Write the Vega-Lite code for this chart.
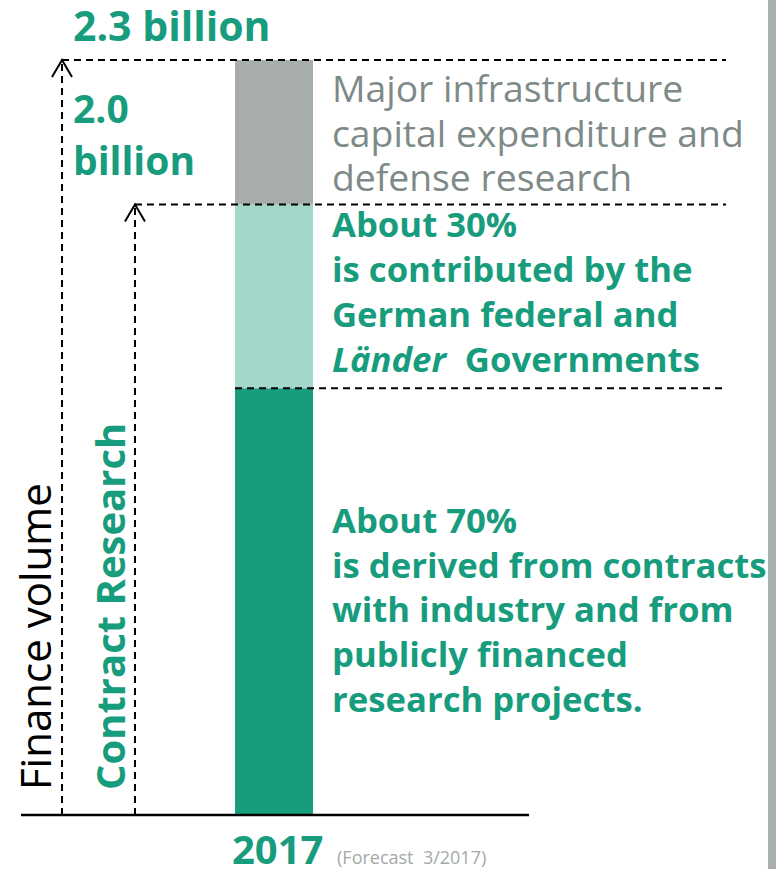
{
  "$schema": "https://vega.github.io/schema/vega-lite/v6.json",
  "width": 778,
  "height": 869,
  "autosize": {"type": "none"},
  "padding": 0,
  "background": "white",
  "config": {"view": {"stroke": null}},
  "datasets": {
    "segments": [
      {"segment": "About 70%: contracts with industry and publicly financed projects", "x": 30.21, "x2": 40.23, "y": 0, "y2": 1.30},
      {"segment": "About 30%: German federal and Länder Governments", "x": 30.21, "x2": 40.23, "y": 1.30, "y2": 1.86},
      {"segment": "Major infrastructure capital expenditure and defense research", "x": 30.21, "x2": 40.23, "y": 1.86, "y2": 2.30}
    ],
    "edge": [
      {"x": 98.71, "x2": 99.74, "y": -0.1645, "y2": 2.4828}
    ],
    "dashes": [
      {"x": 7.97, "x2": 93.32, "y": 2.30, "y2": 2.30},
      {"x": 17.35, "x2": 93.32, "y": 1.86, "y2": 1.86},
      {"x": 30.21, "x2": 93.32, "y": 1.30, "y2": 1.30},
      {"x": 7.97, "x2": 7.97, "y": 0, "y2": 2.30},
      {"x": 17.35, "x2": 17.35, "y": 0, "y2": 1.86}
    ],
    "baseline": [
      {"x": 2.70, "x2": 68.0, "y": 0, "y2": 0}
    ],
    "arrows": [
      {"x": 7.97, "y": 2.30},
      {"x": 17.35, "y": 1.86}
    ],
    "total": [
      {"x": 9.38, "y": 2.358, "text": "2.3 billion"}
    ],
    "contract": [
      {"x": 9.38, "y": 2.108, "text": "2.0"},
      {"x": 9.38, "y": 1.950, "text": "billion"}
    ],
    "grayText": [
      {"x": 42.67, "y": 2.172, "text": "Major infrastructure"},
      {"x": 42.67, "y": 2.035, "text": "capital expenditure and"},
      {"x": 42.67, "y": 1.901, "text": "defense research"}
    ],
    "greenText": [
      {"x": 42.67, "y": 1.761, "text": "About 30%"},
      {"x": 42.67, "y": 1.624, "text": "is contributed by the"},
      {"x": 42.67, "y": 1.487, "text": "German federal and"},
      {"x": 59.75, "y": 1.350, "text": "Governments"},
      {"x": 42.67, "y": 0.859, "text": "About 70%"},
      {"x": 42.67, "y": 0.722, "text": "is derived from contracts"},
      {"x": 42.67, "y": 0.588, "text": "with industry and from"},
      {"x": 42.67, "y": 0.451, "text": "publicly financed"},
      {"x": 42.67, "y": 0.314, "text": "research projects."}
    ],
    "italicText": [
      {"x": 42.67, "y": 1.350, "text": "Länder"}
    ],
    "year": [
      {"x": 29.82, "y": -0.149, "text": "2017"}
    ],
    "forecast": [
      {"x": 43.32, "y": -0.149, "text": "(Forecast\u00a0 3/2017)"}
    ],
    "finance": [
      {"x": 6.56, "y": 0.076, "text": "Finance volume"}
    ],
    "contractLabel": [
      {"x": 16.07, "y": 0.076, "text": "Contract Research"}
    ]
  },
  "encoding": {
    "x": {"field": "x", "type": "quantitative", "scale": {"domain": [0, 100], "nice": false, "zero": false}, "axis": null},
    "y": {"field": "y", "type": "quantitative", "scale": {"domain": [-0.1645, 2.4828], "nice": false, "zero": false}, "axis": null}
  },
  "layer": [
    {
      "data": {"name": "segments"},
      "mark": {"type": "rect"},
      "encoding": {
        "x2": {"field": "x2"},
        "y2": {"field": "y2"},
        "color": {
          "field": "segment",
          "type": "nominal",
          "scale": {
            "domain": [
              "About 70%: contracts with industry and publicly financed projects",
              "About 30%: German federal and Länder Governments",
              "Major infrastructure capital expenditure and defense research"
            ],
            "range": ["#179c7d", "#a3d7ca", "#a6adab"]
          },
          "legend": null
        }
      }
    },
    {
      "data": {"name": "edge"},
      "mark": {"type": "rect", "color": "#a9b0ae"},
      "encoding": {"x2": {"field": "x2"}, "y2": {"field": "y2"}}
    },
    {
      "data": {"name": "dashes"},
      "mark": {"type": "rule", "color": "#000000", "strokeWidth": 2, "strokeDash": [7, 5]},
      "encoding": {"x2": {"field": "x2"}, "y2": {"field": "y2"}}
    },
    {
      "data": {"name": "baseline"},
      "mark": {"type": "rule", "color": "#000000", "strokeWidth": 2.5},
      "encoding": {"x2": {"field": "x2"}, "y2": {"field": "y2"}}
    },
    {
      "data": {"name": "arrows"},
      "mark": {"type": "point", "shape": "M-1,1.7L0,0L1,1.7", "size": 400, "filled": false, "stroke": "#000000", "strokeWidth": 2, "opacity": 1}
    },
    {
      "data": {"name": "total"},
      "mark": {"type": "text", "align": "left", "baseline": "alphabetic", "font": "Open Sans", "fontWeight": "bold", "fontSize": 41, "color": "#179c7d"},
      "encoding": {"text": {"field": "text"}}
    },
    {
      "data": {"name": "contract"},
      "mark": {"type": "text", "align": "left", "baseline": "alphabetic", "font": "Open Sans", "fontWeight": "bold", "fontSize": 39, "color": "#179c7d"},
      "encoding": {"text": {"field": "text"}}
    },
    {
      "data": {"name": "grayText"},
      "mark": {"type": "text", "align": "left", "baseline": "alphabetic", "font": "Open Sans", "fontSize": 37.3, "color": "#7e8a88"},
      "encoding": {"text": {"field": "text"}}
    },
    {
      "data": {"name": "greenText"},
      "mark": {"type": "text", "align": "left", "baseline": "alphabetic", "font": "Open Sans", "fontWeight": "bold", "fontSize": 34.7, "color": "#179c7d"},
      "encoding": {"text": {"field": "text"}}
    },
    {
      "data": {"name": "italicText"},
      "mark": {"type": "text", "align": "left", "baseline": "alphabetic", "font": "Open Sans", "fontWeight": "bold", "fontStyle": "italic", "fontSize": 34.7, "color": "#179c7d"},
      "encoding": {"text": {"field": "text"}}
    },
    {
      "data": {"name": "year"},
      "mark": {"type": "text", "align": "left", "baseline": "alphabetic", "font": "Open Sans", "fontWeight": "bold", "fontSize": 40, "color": "#179c7d"},
      "encoding": {"text": {"field": "text"}}
    },
    {
      "data": {"name": "forecast"},
      "mark": {"type": "text", "align": "left", "baseline": "alphabetic", "font": "Open Sans", "fontSize": 18, "color": "#a2aaa8"},
      "encoding": {"text": {"field": "text"}}
    },
    {
      "data": {"name": "finance"},
      "mark": {"type": "text", "align": "left", "baseline": "alphabetic", "angle": 270, "font": "Open Sans", "fontSize": 42, "color": "#000000"},
      "encoding": {"text": {"field": "text"}}
    },
    {
      "data": {"name": "contractLabel"},
      "mark": {"type": "text", "align": "left", "baseline": "alphabetic", "angle": 270, "font": "Open Sans", "fontWeight": "bold", "fontSize": 40, "color": "#179c7d"},
      "encoding": {"text": {"field": "text"}}
    }
  ]
}
